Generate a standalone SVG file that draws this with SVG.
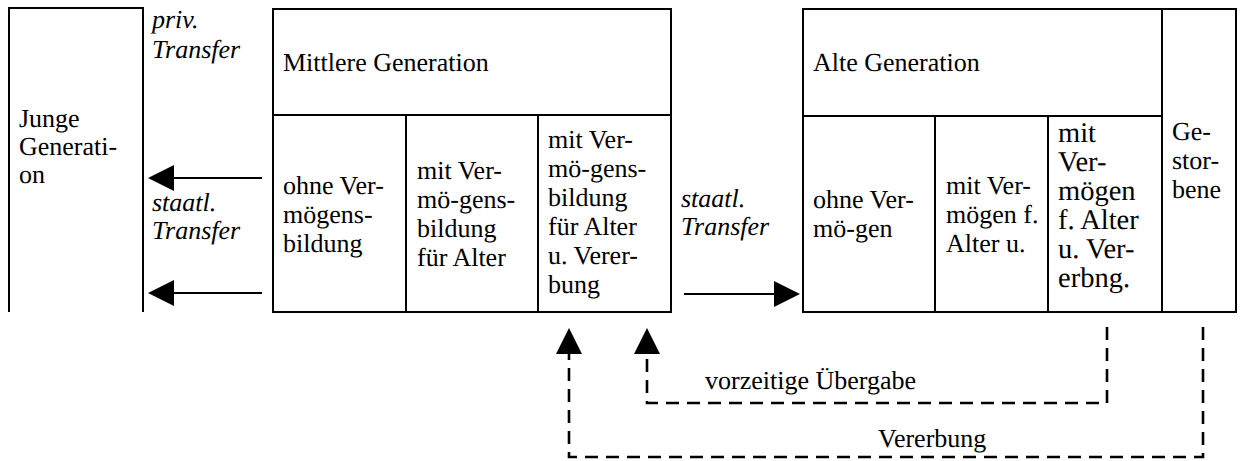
<svg xmlns="http://www.w3.org/2000/svg" width="1240" height="461" viewBox="0 0 1240 461" font-family="Liberation Serif, Times New Roman, serif" text-rendering="geometricPrecision">
<style>
.b{fill:none;stroke:#000;stroke-width:2}
.t{font-size:26px;fill:#000}
.i{font-style:italic}
.big{font-size:28.5px}
.c{fill:none;stroke:#000;stroke-width:2}
.d{fill:none;stroke:#000;stroke-width:2.6;stroke-dasharray:13 8}
</style>
<defs>
<marker id="ah" markerUnits="userSpaceOnUse" markerWidth="26" markerHeight="26" viewBox="0 0 26 26" refX="0" refY="13" orient="auto">
<path d="M0,0 L26,13 L0,26 z" fill="#000"/>
</marker>
</defs>
<rect width="1240" height="461" fill="#fff"/>

<g id="junge">
<path class="b" d="M9,312 V8 H143 V312"/>
<text class="t" x="19" y="127">Junge</text>
<text class="t" x="19" y="155">Generati-</text>
<text class="t" x="19" y="183">on</text>
</g>

<g id="transfer-labels-left">
<text class="t i" x="152" y="28">priv.</text>
<text class="t i" x="152" y="58">Transfer</text>
<text class="t i" x="152" y="211">staatl.</text>
<text class="t i" x="152" y="239">Transfer</text>
</g>

<g id="mittlere">
<rect class="b" x="273" y="9" width="398" height="303"/>
<path class="b" d="M273,115 H671 M406,115 V312 M538,115 V312"/>
<text class="t" x="283" y="71">Mittlere Generation</text>
<text class="t" x="283" y="194">ohne Ver-</text>
<text class="t" x="283" y="223">mögens-</text>
<text class="t" x="283" y="252">bildung</text>
<text class="t" x="417" y="179">mit Ver-</text>
<text class="t" x="417" y="208">mö-gens-</text>
<text class="t" x="417" y="237">bildung</text>
<text class="t" x="417" y="266">für Alter</text>
<text class="t" x="548" y="148">mit Ver-</text>
<text class="t" x="548" y="177">mö-gens-</text>
<text class="t" x="548" y="206">bildung</text>
<text class="t" x="548" y="235">für Alter</text>
<text class="t" x="548" y="264">u. Verer-</text>
<text class="t" x="548" y="293">bung</text>
</g>

<g id="transfer-label-right">
<text class="t i" x="681" y="207">staatl.</text>
<text class="t i" x="681" y="235">Transfer</text>
</g>

<g id="alte">
<rect class="b" x="803" y="9" width="433" height="303"/>
<path class="b" d="M803,116 H1162 M935,116 V312 M1048,116 V312 M1162,9 V312"/>
<text class="t" x="813" y="71">Alte Generation</text>
<text class="t" x="813" y="208">ohne Ver-</text>
<text class="t" x="813" y="237">mö-gen</text>
<text class="t" x="946" y="194">mit Ver-</text>
<text class="t" x="946" y="223">mögen f.</text>
<text class="t" x="946" y="252">Alter u.</text>
<text class="t big" x="1058" y="142">mit</text>
<text class="t big" x="1058" y="171">Ver-</text>
<text class="t big" x="1058" y="200">mögen</text>
<text class="t big" x="1058" y="229">f. Alter</text>
<text class="t big" x="1058" y="258">u. Ver-</text>
<text class="t big" x="1058" y="287">erbng.</text>
</g>

<g id="gestorbene">
<text class="t" x="1172" y="140">Ge-</text>
<text class="t" x="1172" y="169">stor-</text>
<text class="t" x="1172" y="198">bene</text>
</g>

<g id="connectors">
<path class="c" d="M262,178 H174" marker-end="url(#ah)"/>
<path class="c" d="M262,293 H174" marker-end="url(#ah)"/>
<path class="c" d="M684,294 H774" marker-end="url(#ah)"/>
<path class="d" d="M1107,327 V403 H647 V354" marker-end="url(#ah)"/>
<path class="d" d="M1203,327 V457 H569 V354" marker-end="url(#ah)"/>
<text class="t" x="705" y="389">vorzeitige Übergabe</text>
<text class="t" x="878" y="447">Vererbung</text>
</g>
</svg>
